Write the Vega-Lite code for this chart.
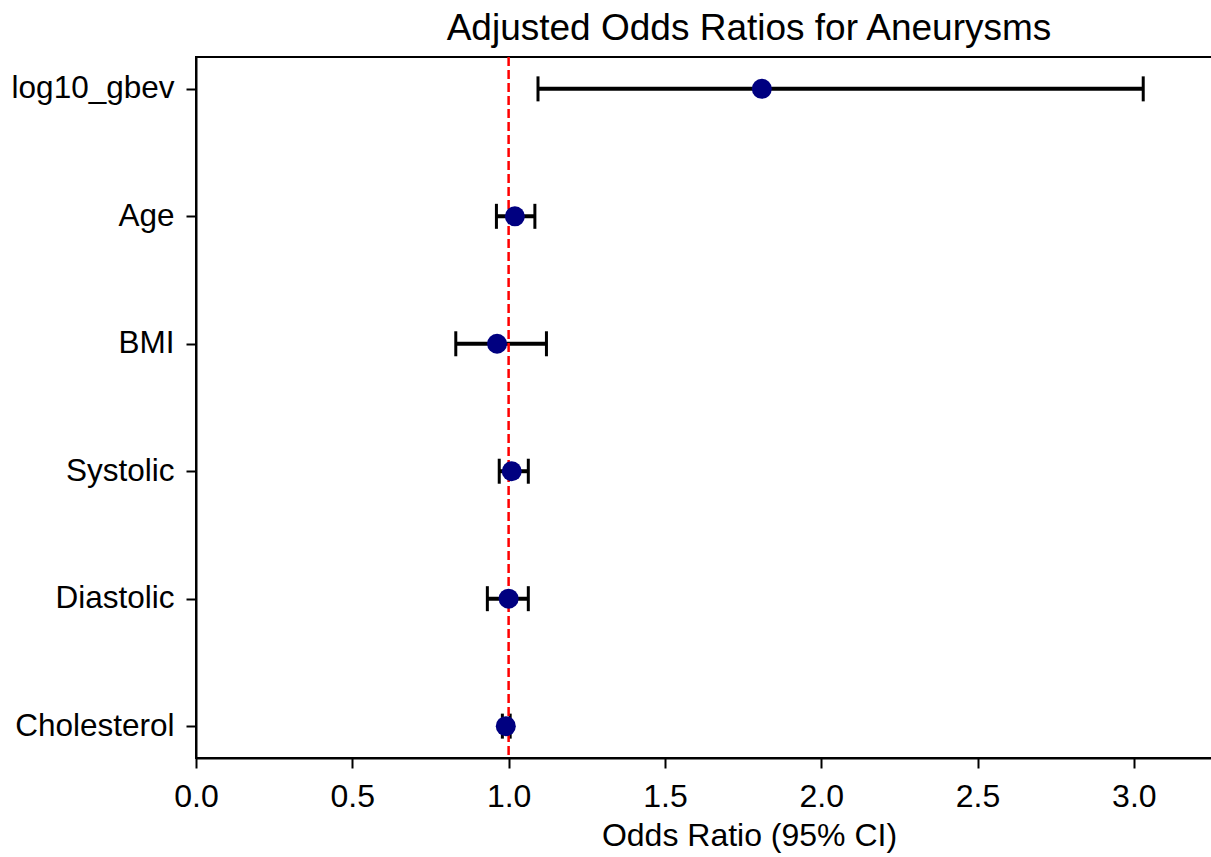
{
  "$schema": "https://vega.github.io/schema/vega-lite/v6.json",
  "width": 1016,
  "height": 701,
  "autosize": {"type": "none"},
  "padding": {"left": 196, "top": 57, "right": 0, "bottom": 99},
  "background": "white",
  "config": {
    "font": "Liberation Sans",
    "view": {"stroke": "black", "strokeWidth": 2},
    "axis": {"grid": false, "domainColor": "black", "domainWidth": 2, "tickColor": "black", "tickWidth": 2, "tickSize": 10, "labelColor": "black", "titleColor": "black", "labelFont": "Liberation Sans", "titleFont": "Liberation Sans"}
  },
  "title": {"text": "Adjusted Odds Ratios for Aneurysms", "fontSize": 37, "fontWeight": "normal", "font": "Liberation Sans", "color": "black", "offset": 8, "dx": 45},
  "data": {"values": [
    {"variable": "log10_gbev", "or": 1.81, "low": 1.094, "high": 3.03},
    {"variable": "Age", "or": 1.02, "low": 0.961, "high": 1.084},
    {"variable": "BMI", "or": 0.963, "low": 0.831, "high": 1.121},
    {"variable": "Systolic", "or": 1.01, "low": 0.97, "high": 1.063},
    {"variable": "Diastolic", "or": 1.0, "low": 0.932, "high": 1.063},
    {"variable": "Cholesterol", "or": 0.991, "low": 0.98, "high": 1.005}
  ]},
  "encoding": {
    "y": {"field": "variable", "type": "nominal", "title": null,
      "scale": {"type": "point", "padding": 0.25, "domain": ["log10_gbev", "Age", "BMI", "Systolic", "Diastolic", "Cholesterol"]},
      "axis": {"labelFontSize": 31.5, "labelPadding": 12, "domain": true}}
  },
  "layer": [
    {
      "mark": {"type": "rule", "color": "black", "strokeWidth": 4},
      "encoding": {
        "x": {"field": "low", "type": "quantitative", "title": "Odds Ratio (95% CI)",
          "scale": {"domain": [0, 3.25], "nice": false, "zero": false},
          "axis": {"values": [0, 0.5, 1, 1.5, 2, 2.5, 3], "format": ".1f", "labelFontSize": 32, "titleFontSize": 32, "titleFontWeight": "normal", "labelPadding": 13, "titlePadding": 8, "labelFlush": false, "titleX": 553, "titleAlign": "center", "titleAnchor": null}},
        "x2": {"field": "high"}
      }
    },
    {
      "mark": {"type": "tick", "color": "black", "thickness": 3, "size": 25, "orient": "vertical", "opacity": 1},
      "encoding": {"x": {"field": "low", "type": "quantitative"}}
    },
    {
      "mark": {"type": "tick", "color": "black", "thickness": 3, "size": 25, "orient": "vertical", "opacity": 1},
      "encoding": {"x": {"field": "high", "type": "quantitative"}}
    },
    {
      "data": {"values": [{"ref": 1}]},
      "mark": {"type": "rule", "color": "#ff0000", "strokeWidth": 2.5, "strokeDash": [9, 4]},
      "encoding": {"x": {"field": "ref", "type": "quantitative"}, "y": {"value": 0}, "y2": {"value": 701}}
    },
    {
      "mark": {"type": "point", "filled": true, "color": "#000080", "size": 400, "opacity": 1},
      "encoding": {"x": {"field": "or", "type": "quantitative"}}
    }
  ]
}
